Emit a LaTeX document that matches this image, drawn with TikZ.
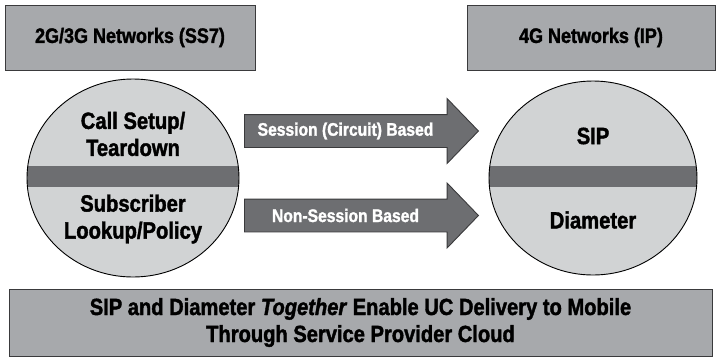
\documentclass[tikz,border=0pt]{standalone}
\usepackage{fontspec}
\setmainfont{Liberation Sans}[FakeStretch=0.86,BoldFeatures={FakeBold=1.6},BoldItalicFeatures={FakeBold=1.6}]
\usetikzlibrary{calc,shapes.geometric,shapes.arrows}
\definecolor{boxgray}{HTML}{A7A9AC}
\definecolor{discgray}{HTML}{D1D3D4}
\definecolor{bandgray}{HTML}{6D6E71}
\definecolor{edgegray}{HTML}{3A3A3C}

\begin{document}
\begin{tikzpicture}[x=1pt,y=-1pt,
  netbox/.style={draw=edgegray,fill=boxgray,line width=1pt,minimum height=65pt,font=\fontsize{20.9}{24}\selectfont\bfseries},
  disc/.style={ellipse,draw=black,line width=0.9pt,fill=discgray,inner sep=0pt,
    path picture={\fill[bandgray] ($(path picture bounding box.west)+(0,-12)$) rectangle ($(path picture bounding box.east)+(0,9)$);}},
  disctext/.style={align=center,font=\fontsize{23.5}{27}\selectfont\bfseries},
  flow/.style={single arrow,draw=edgegray,fill=bandgray,line width=0.9pt,single arrow head extend=16pt,
    single arrow tip angle=92,minimum height=234pt,text height=12.5pt,text depth=0pt,inner ysep=9.75pt,anchor=tail},
  flowtext/.style={text=white,font=\fontsize{18.2}{20}\selectfont\bfseries}]
\useasboundingbox (0,0) rectangle (717,357);
\node[netbox,minimum width=250pt] (sevenbox) at (130,37.5) {2G/3G Networks (SS7)};
\node[netbox,minimum width=248pt] (ipbox) at (591,37.5) {4G Networks (IP)};
\node[disc,minimum width=212pt,minimum height=198pt] (legacy) at (133,178) {};
\node[disc,minimum width=208pt,minimum height=194pt] (allip) at (593,178) {};
\node[disctext] (setup) at (133,134) {Call Setup/\\Teardown};
\node[disctext] (lookup) at (133,219) {Subscriber\\Lookup/Policy};
\node[disctext] (sip) at (593,136) {SIP};
\node[disctext] (diameter) at (593,220) {Diameter};
\node[flow] (circuit) at (244,131) {};
\node[flow] (noncircuit) at (244,215.5) {};
\node[flowtext] (circuitlabel) at (345.5,131) {Session (Circuit) Based};
\node[flowtext] (noncircuitlabel) at (345.5,215.5) {Non-Session Based};
\node[netbox,minimum width=703pt,minimum height=67pt,align=center,font=\fontsize{23.4}{27}\selectfont\bfseries] (cloud) at (360.5,322.5)
  {SIP and Diameter \textit{Together} Enable UC Delivery to Mobile\\Through Service Provider Cloud};
\end{tikzpicture}
\end{document}
